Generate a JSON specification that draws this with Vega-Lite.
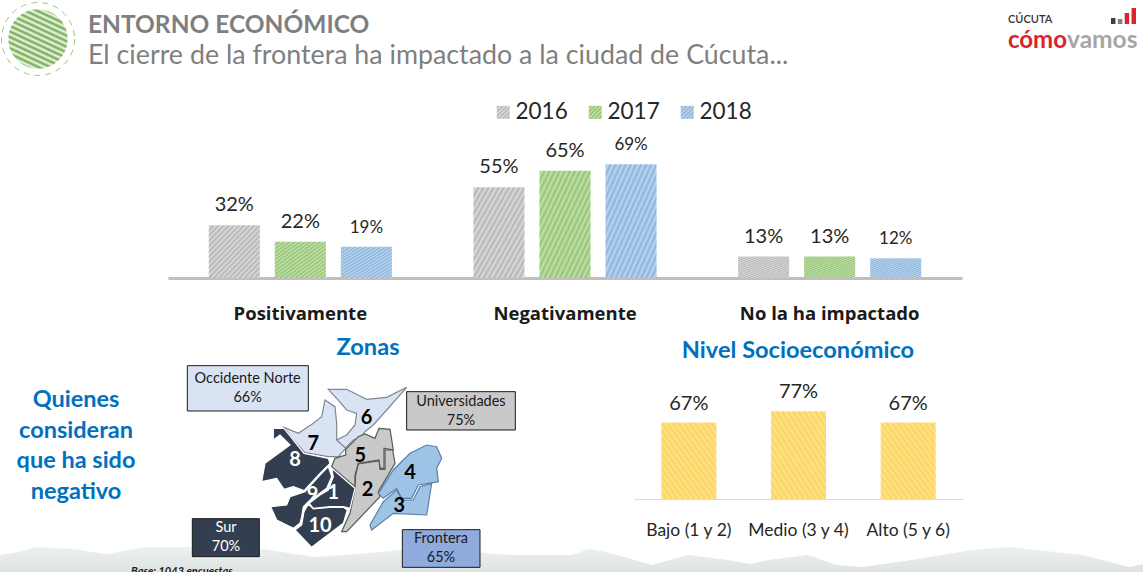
{
  "$schema": "https://vega.github.io/schema/vega-lite/v5.json",
  "width": 1143,
  "height": 572,
  "padding": 0,
  "autosize": "none",
  "background": "#ffffff",
  "title": {
    "text": "ENTORNO ECONÓMICO",
    "subtitle": "El cierre de la frontera ha impactado a la ciudad de Cúcuta...",
    "anchor": "start",
    "frame": "group",
    "dx": 88,
    "dy": 75,
    "font": "Lato",
    "fontSize": 24.5,
    "fontWeight": "bold",
    "color": "#7f7f7f",
    "subtitleFont": "Lato",
    "subtitleFontSize": 26.8,
    "subtitleFontWeight": "normal",
    "subtitleColor": "#7f7f7f",
    "subtitlePadding": 5
  },
  "config": {
    "view": {"stroke": null},
    "axis": {"grid": false},
    "text": {"font": "Lato"}
  },
  "params": [
    {"name": "rayaGris", "value": {"gradient": "linear", "x1": 0, "y1": 0, "x2": 1, "y2": 1, "stops": [
      {"offset": 0, "color": "#b4b4b4"}, {"offset": 0.025, "color": "#dcdcdc"}, {"offset": 0.05, "color": "#b4b4b4"}, {"offset": 0.075, "color": "#dcdcdc"}, {"offset": 0.1, "color": "#b4b4b4"}, {"offset": 0.125, "color": "#dcdcdc"}, {"offset": 0.15, "color": "#b4b4b4"}, {"offset": 0.175, "color": "#dcdcdc"}, {"offset": 0.2, "color": "#b4b4b4"}, {"offset": 0.225, "color": "#dcdcdc"}, {"offset": 0.25, "color": "#b4b4b4"}, {"offset": 0.275, "color": "#dcdcdc"}, {"offset": 0.3, "color": "#b4b4b4"}, {"offset": 0.325, "color": "#dcdcdc"}, {"offset": 0.35, "color": "#b4b4b4"}, {"offset": 0.375, "color": "#dcdcdc"}, {"offset": 0.4, "color": "#b4b4b4"}, {"offset": 0.425, "color": "#dcdcdc"}, {"offset": 0.45, "color": "#b4b4b4"}, {"offset": 0.475, "color": "#dcdcdc"}, {"offset": 0.5, "color": "#b4b4b4"}, {"offset": 0.525, "color": "#dcdcdc"}, {"offset": 0.55, "color": "#b4b4b4"}, {"offset": 0.575, "color": "#dcdcdc"}, {"offset": 0.6, "color": "#b4b4b4"}, {"offset": 0.625, "color": "#dcdcdc"}, {"offset": 0.65, "color": "#b4b4b4"}, {"offset": 0.675, "color": "#dcdcdc"}, {"offset": 0.7, "color": "#b4b4b4"}, {"offset": 0.725, "color": "#dcdcdc"}, {"offset": 0.75, "color": "#b4b4b4"}, {"offset": 0.775, "color": "#dcdcdc"}, {"offset": 0.8, "color": "#b4b4b4"}, {"offset": 0.825, "color": "#dcdcdc"}, {"offset": 0.85, "color": "#b4b4b4"}, {"offset": 0.875, "color": "#dcdcdc"}, {"offset": 0.9, "color": "#b4b4b4"}, {"offset": 0.925, "color": "#dcdcdc"}, {"offset": 0.95, "color": "#b4b4b4"}, {"offset": 0.975, "color": "#dcdcdc"}, {"offset": 1, "color": "#b4b4b4"}
    ]}},
    {"name": "rayaVerde", "value": {"gradient": "linear", "x1": 0, "y1": 0, "x2": 1, "y2": 1, "stops": [
      {"offset": 0, "color": "#92c472"}, {"offset": 0.025, "color": "#c4e0ae"}, {"offset": 0.05, "color": "#92c472"}, {"offset": 0.075, "color": "#c4e0ae"}, {"offset": 0.1, "color": "#92c472"}, {"offset": 0.125, "color": "#c4e0ae"}, {"offset": 0.15, "color": "#92c472"}, {"offset": 0.175, "color": "#c4e0ae"}, {"offset": 0.2, "color": "#92c472"}, {"offset": 0.225, "color": "#c4e0ae"}, {"offset": 0.25, "color": "#92c472"}, {"offset": 0.275, "color": "#c4e0ae"}, {"offset": 0.3, "color": "#92c472"}, {"offset": 0.325, "color": "#c4e0ae"}, {"offset": 0.35, "color": "#92c472"}, {"offset": 0.375, "color": "#c4e0ae"}, {"offset": 0.4, "color": "#92c472"}, {"offset": 0.425, "color": "#c4e0ae"}, {"offset": 0.45, "color": "#92c472"}, {"offset": 0.475, "color": "#c4e0ae"}, {"offset": 0.5, "color": "#92c472"}, {"offset": 0.525, "color": "#c4e0ae"}, {"offset": 0.55, "color": "#92c472"}, {"offset": 0.575, "color": "#c4e0ae"}, {"offset": 0.6, "color": "#92c472"}, {"offset": 0.625, "color": "#c4e0ae"}, {"offset": 0.65, "color": "#92c472"}, {"offset": 0.675, "color": "#c4e0ae"}, {"offset": 0.7, "color": "#92c472"}, {"offset": 0.725, "color": "#c4e0ae"}, {"offset": 0.75, "color": "#92c472"}, {"offset": 0.775, "color": "#c4e0ae"}, {"offset": 0.8, "color": "#92c472"}, {"offset": 0.825, "color": "#c4e0ae"}, {"offset": 0.85, "color": "#92c472"}, {"offset": 0.875, "color": "#c4e0ae"}, {"offset": 0.9, "color": "#92c472"}, {"offset": 0.925, "color": "#c4e0ae"}, {"offset": 0.95, "color": "#92c472"}, {"offset": 0.975, "color": "#c4e0ae"}, {"offset": 1, "color": "#92c472"}
    ]}},
    {"name": "rayaAzul", "value": {"gradient": "linear", "x1": 0, "y1": 0, "x2": 1, "y2": 1, "stops": [
      {"offset": 0, "color": "#8bb4dc"}, {"offset": 0.025, "color": "#bcd6ee"}, {"offset": 0.05, "color": "#8bb4dc"}, {"offset": 0.075, "color": "#bcd6ee"}, {"offset": 0.1, "color": "#8bb4dc"}, {"offset": 0.125, "color": "#bcd6ee"}, {"offset": 0.15, "color": "#8bb4dc"}, {"offset": 0.175, "color": "#bcd6ee"}, {"offset": 0.2, "color": "#8bb4dc"}, {"offset": 0.225, "color": "#bcd6ee"}, {"offset": 0.25, "color": "#8bb4dc"}, {"offset": 0.275, "color": "#bcd6ee"}, {"offset": 0.3, "color": "#8bb4dc"}, {"offset": 0.325, "color": "#bcd6ee"}, {"offset": 0.35, "color": "#8bb4dc"}, {"offset": 0.375, "color": "#bcd6ee"}, {"offset": 0.4, "color": "#8bb4dc"}, {"offset": 0.425, "color": "#bcd6ee"}, {"offset": 0.45, "color": "#8bb4dc"}, {"offset": 0.475, "color": "#bcd6ee"}, {"offset": 0.5, "color": "#8bb4dc"}, {"offset": 0.525, "color": "#bcd6ee"}, {"offset": 0.55, "color": "#8bb4dc"}, {"offset": 0.575, "color": "#bcd6ee"}, {"offset": 0.6, "color": "#8bb4dc"}, {"offset": 0.625, "color": "#bcd6ee"}, {"offset": 0.65, "color": "#8bb4dc"}, {"offset": 0.675, "color": "#bcd6ee"}, {"offset": 0.7, "color": "#8bb4dc"}, {"offset": 0.725, "color": "#bcd6ee"}, {"offset": 0.75, "color": "#8bb4dc"}, {"offset": 0.775, "color": "#bcd6ee"}, {"offset": 0.8, "color": "#8bb4dc"}, {"offset": 0.825, "color": "#bcd6ee"}, {"offset": 0.85, "color": "#8bb4dc"}, {"offset": 0.875, "color": "#bcd6ee"}, {"offset": 0.9, "color": "#8bb4dc"}, {"offset": 0.925, "color": "#bcd6ee"}, {"offset": 0.95, "color": "#8bb4dc"}, {"offset": 0.975, "color": "#bcd6ee"}, {"offset": 1, "color": "#8bb4dc"}
    ]}},
    {"name": "rayaAmarilla", "value": {"gradient": "linear", "x1": 0, "y1": 1, "x2": 1, "y2": 0, "stops": [
      {"offset": 0, "color": "#fcd45e"}, {"offset": 0.025, "color": "#ffe48c"}, {"offset": 0.05, "color": "#fcd45e"}, {"offset": 0.075, "color": "#ffe48c"}, {"offset": 0.1, "color": "#fcd45e"}, {"offset": 0.125, "color": "#ffe48c"}, {"offset": 0.15, "color": "#fcd45e"}, {"offset": 0.175, "color": "#ffe48c"}, {"offset": 0.2, "color": "#fcd45e"}, {"offset": 0.225, "color": "#ffe48c"}, {"offset": 0.25, "color": "#fcd45e"}, {"offset": 0.275, "color": "#ffe48c"}, {"offset": 0.3, "color": "#fcd45e"}, {"offset": 0.325, "color": "#ffe48c"}, {"offset": 0.35, "color": "#fcd45e"}, {"offset": 0.375, "color": "#ffe48c"}, {"offset": 0.4, "color": "#fcd45e"}, {"offset": 0.425, "color": "#ffe48c"}, {"offset": 0.45, "color": "#fcd45e"}, {"offset": 0.475, "color": "#ffe48c"}, {"offset": 0.5, "color": "#fcd45e"}, {"offset": 0.525, "color": "#ffe48c"}, {"offset": 0.55, "color": "#fcd45e"}, {"offset": 0.575, "color": "#ffe48c"}, {"offset": 0.6, "color": "#fcd45e"}, {"offset": 0.625, "color": "#ffe48c"}, {"offset": 0.65, "color": "#fcd45e"}, {"offset": 0.675, "color": "#ffe48c"}, {"offset": 0.7, "color": "#fcd45e"}, {"offset": 0.725, "color": "#ffe48c"}, {"offset": 0.75, "color": "#fcd45e"}, {"offset": 0.775, "color": "#ffe48c"}, {"offset": 0.8, "color": "#fcd45e"}, {"offset": 0.825, "color": "#ffe48c"}, {"offset": 0.85, "color": "#fcd45e"}, {"offset": 0.875, "color": "#ffe48c"}, {"offset": 0.9, "color": "#fcd45e"}, {"offset": 0.925, "color": "#ffe48c"}, {"offset": 0.95, "color": "#fcd45e"}, {"offset": 0.975, "color": "#ffe48c"}, {"offset": 1, "color": "#fcd45e"}
    ]}},
    {"name": "rayaCirculo", "value": {"gradient": "linear", "x1": 0.86, "y1": -0.27, "x2": 0.14, "y2": 1.27, "stops": [
      {"offset": 0, "color": "#6fa84a"}, {"offset": 0.025, "color": "#f2f8ee"}, {"offset": 0.05, "color": "#6fa84a"}, {"offset": 0.075, "color": "#f2f8ee"}, {"offset": 0.1, "color": "#6fa84a"}, {"offset": 0.125, "color": "#f2f8ee"}, {"offset": 0.15, "color": "#6fa84a"}, {"offset": 0.175, "color": "#f2f8ee"}, {"offset": 0.2, "color": "#6fa84a"}, {"offset": 0.225, "color": "#f2f8ee"}, {"offset": 0.25, "color": "#6fa84a"}, {"offset": 0.275, "color": "#f2f8ee"}, {"offset": 0.3, "color": "#6fa84a"}, {"offset": 0.325, "color": "#f2f8ee"}, {"offset": 0.35, "color": "#6fa84a"}, {"offset": 0.375, "color": "#f2f8ee"}, {"offset": 0.4, "color": "#6fa84a"}, {"offset": 0.425, "color": "#f2f8ee"}, {"offset": 0.45, "color": "#6fa84a"}, {"offset": 0.475, "color": "#f2f8ee"}, {"offset": 0.5, "color": "#6fa84a"}, {"offset": 0.525, "color": "#f2f8ee"}, {"offset": 0.55, "color": "#6fa84a"}, {"offset": 0.575, "color": "#f2f8ee"}, {"offset": 0.6, "color": "#6fa84a"}, {"offset": 0.625, "color": "#f2f8ee"}, {"offset": 0.65, "color": "#6fa84a"}, {"offset": 0.675, "color": "#f2f8ee"}, {"offset": 0.7, "color": "#6fa84a"}, {"offset": 0.725, "color": "#f2f8ee"}, {"offset": 0.75, "color": "#6fa84a"}, {"offset": 0.775, "color": "#f2f8ee"}, {"offset": 0.8, "color": "#6fa84a"}, {"offset": 0.825, "color": "#f2f8ee"}, {"offset": 0.85, "color": "#6fa84a"}, {"offset": 0.875, "color": "#f2f8ee"}, {"offset": 0.9, "color": "#6fa84a"}, {"offset": 0.925, "color": "#f2f8ee"}, {"offset": 0.95, "color": "#6fa84a"}, {"offset": 0.975, "color": "#f2f8ee"}, {"offset": 1, "color": "#6fa84a"}
    ]}},
    {"name": "fondoCerros", "value": {"gradient": "linear", "x1": 0, "y1": 0, "x2": 0, "y2": 1, "stops": [
      {"offset": 0, "color": "#edf1f0"}, {"offset": 1, "color": "#dde4e2"}
    ]}}
  ],
  "datasets": {
    "impacto": [
      {"categoria": "Positivamente", "anio": "2016", "valor": 0.32},
      {"categoria": "Positivamente", "anio": "2017", "valor": 0.22},
      {"categoria": "Positivamente", "anio": "2018", "valor": 0.19},
      {"categoria": "Negativamente", "anio": "2016", "valor": 0.55},
      {"categoria": "Negativamente", "anio": "2017", "valor": 0.65},
      {"categoria": "Negativamente", "anio": "2018", "valor": 0.69},
      {"categoria": "No la ha impactado", "anio": "2016", "valor": 0.13},
      {"categoria": "No la ha impactado", "anio": "2017", "valor": 0.13},
      {"categoria": "No la ha impactado", "anio": "2018", "valor": 0.12}
    ],
    "nivel": [
      {"nivel": "Bajo (1 y 2)", "valor": 0.67},
      {"nivel": "Medio (3 y 4)", "valor": 0.77},
      {"nivel": "Alto (5 y 6)", "valor": 0.67}
    ],
    "zonas": [
      {"type": "Feature", "properties": {"zona": "6", "grupo": "Occidente Norte"}, "geometry": {"type": "Polygon", "coordinates": [[[445,88],[500,88],[560,118],[620,112],[680,82],[620,150],[580,195],[555,215],[540,235],[520,240],[495,265],[470,240],[500,225],[525,195],[530,160],[500,150],[470,115],[445,88]]]}},
      {"type": "Feature", "properties": {"zona": "7", "grupo": "Occidente Norte"}, "geometry": {"type": "Polygon", "coordinates": [[[312,202],[355,220],[400,190],[425,170],[435,120],[465,140],[470,190],[470,240],[497,265],[475,290],[445,290],[375,278],[340,240],[312,202]]]}},
      {"type": "Feature", "properties": {"zona": "8", "grupo": "Sur"}, "geometry": {"type": "Polygon", "coordinates": [[[280,205],[312,205],[372,280],[445,295],[450,310],[420,340],[372,392],[340,380],[312,388],[290,355],[245,365],[255,310],[330,255],[300,225],[280,240],[280,205]]]}},
      {"type": "Feature", "properties": {"zona": "5", "grupo": "Universidades"}, "geometry": {"type": "Polygon", "coordinates": [[[497,268],[535,230],[555,222],[585,235],[597,205],[630,208],[640,270],[612,265],[612,325],[600,325],[597,300],[535,310],[525,345],[525,380],[455,320],[465,295],[497,285],[497,268]]]}},
      {"type": "Feature", "properties": {"zona": "2", "grupo": "Universidades"}, "geometry": {"type": "Polygon", "coordinates": [[[535,312],[597,303],[600,328],[615,328],[615,270],[638,270],[645,310],[595,395],[600,410],[500,515],[485,515],[510,460],[525,385],[527,345],[535,312]]]}},
      {"type": "Feature", "properties": {"zona": "1", "grupo": "Sur"}, "geometry": {"type": "Polygon", "coordinates": [[[455,325],[525,385],[510,445],[490,440],[450,440],[400,445],[388,430],[420,405],[445,390],[460,350],[455,325]]]}},
      {"type": "Feature", "properties": {"zona": "9", "grupo": "Sur"}, "geometry": {"type": "Polygon", "coordinates": [[[375,395],[420,345],[445,320],[455,350],[440,385],[385,425],[370,440],[365,470],[360,490],[340,505],[290,480],[272,440],[320,435],[330,410],[375,395]]]}},
      {"type": "Feature", "properties": {"zona": "10", "grupo": "Sur"}, "geometry": {"type": "Polygon", "coordinates": [[[385,432],[400,447],[450,442],[490,442],[502,450],[490,490],[395,562],[345,510],[365,495],[372,455],[385,432]]]}},
      {"type": "Feature", "properties": {"zona": "4", "grupo": "Frontera"}, "geometry": {"type": "Polygon", "coordinates": [[[595,400],[640,330],[690,280],[740,255],[770,260],[785,295],[770,325],[775,365],[715,375],[695,415],[665,415],[650,385],[610,415],[595,400]]]}},
      {"type": "Feature", "properties": {"zona": "3", "grupo": "Frontera"}, "geometry": {"type": "Polygon", "coordinates": [[[570,495],[610,425],[650,390],[665,420],[700,420],[720,380],[755,370],[740,465],[640,460],[575,510],[570,495]]]}}
    ],
    "etiquetasZona": [
      {"zona": "6", "grupo": "Occidente Norte", "lon": 560, "lat": 175},
      {"zona": "7", "grupo": "Occidente Norte", "lon": 400, "lat": 252},
      {"zona": "8", "grupo": "Sur", "lon": 345, "lat": 300},
      {"zona": "5", "grupo": "Universidades", "lon": 541, "lat": 288},
      {"zona": "9", "grupo": "Sur", "lon": 398, "lat": 405},
      {"zona": "1", "grupo": "Sur", "lon": 460, "lat": 400},
      {"zona": "2", "grupo": "Universidades", "lon": 563, "lat": 390},
      {"zona": "4", "grupo": "Frontera", "lon": 690, "lat": 338},
      {"zona": "3", "grupo": "Frontera", "lon": 658, "lat": 438},
      {"zona": "10", "grupo": "Sur", "lon": 420, "lat": 497}
    ],
    "cajas": [
      {"type": "Feature", "properties": {"grupo": "Occidente Norte"}, "geometry": {"type": "Polygon", "coordinates": [[[22,17],[385,17],[385,153],[22,153],[22,17]]]}},
      {"type": "Feature", "properties": {"grupo": "Universidades"}, "geometry": {"type": "Polygon", "coordinates": [[[680,95],[1006,95],[1006,210],[680,210],[680,95]]]}},
      {"type": "Feature", "properties": {"grupo": "Sur"}, "geometry": {"type": "Polygon", "coordinates": [[[37,476],[238,476],[238,590],[37,590],[37,476]]]}},
      {"type": "Feature", "properties": {"grupo": "Frontera"}, "geometry": {"type": "Polygon", "coordinates": [[[667,509],[900,509],[900,622],[667,622],[667,509]]]}}
    ],
    "etiquetasCaja": [
      {"grupo": "Occidente Norte", "texto": "Occidente Norte\n66%", "lon": 203, "lat": 57},
      {"grupo": "Universidades", "texto": "Universidades\n75%", "lon": 843, "lat": 126},
      {"grupo": "Sur", "texto": "Sur\n70%", "lon": 138, "lat": 504},
      {"grupo": "Frontera", "texto": "Frontera\n65%", "lon": 783, "lat": 536}
    ],
    "cerros": [
      {"x": 0, "altura": 17}, {"x": 1.6, "altura": 20}, {"x": 3.2, "altura": 25}, {"x": 6.4, "altura": 23},
      {"x": 9.3, "altura": 18}, {"x": 12.8, "altura": 25}, {"x": 16.6, "altura": 25}, {"x": 23, "altura": 23},
      {"x": 27.5, "altura": 15}, {"x": 31.3, "altura": 18}, {"x": 35.1, "altura": 22}, {"x": 41.5, "altura": 20},
      {"x": 44.7, "altura": 17}, {"x": 50, "altura": 17}, {"x": 51.5, "altura": 23}, {"x": 53.1, "altura": 20},
      {"x": 57, "altura": 7}, {"x": 60.2, "altura": 17}, {"x": 63.7, "altura": 12}, {"x": 65.6, "altura": 8},
      {"x": 67.2, "altura": 12}, {"x": 70.7, "altura": 17}, {"x": 73.2, "altura": 7}, {"x": 75.5, "altura": 5},
      {"x": 80.3, "altura": 13}, {"x": 85, "altura": 22}, {"x": 88.3, "altura": 25}, {"x": 94.7, "altura": 17},
      {"x": 98.8, "altura": 5}, {"x": 100, "altura": 8}
    ],
    "barrasLogo": [
      {"barra": "a", "nivel": 6},
      {"barra": "b", "nivel": 5},
      {"barra": "c", "nivel": 11},
      {"barra": "d", "nivel": 16}
    ]
  },
  "resolve": {
    "scale": {"x": "independent", "y": "independent", "color": "independent", "stroke": "independent"}
  },
  "layer": [
    {
      "data": {"name": "cerros"},
      "mark": {"type": "area", "fill": {"expr": "fondoCerros"}},
      "encoding": {
        "x": {"field": "x", "type": "quantitative", "axis": null, "scale": {"domain": [0, 100], "range": [0, 1143]}},
        "y": {"field": "altura", "type": "quantitative", "axis": null, "scale": {"domain": [0, 30], "range": [572, 542]}}
      }
    },
    {
      "data": {"values": [{"pieza": "circulo"}]},
      "encoding": {
        "x": {"field": "pieza", "type": "nominal", "axis": null, "scale": {"range": [38, 38]}},
        "y": {"field": "pieza", "type": "nominal", "axis": null, "scale": {"range": [39, 39]}}
      },
      "layer": [
        {"mark": {"type": "point", "filled": true, "size": 3530, "opacity": 1, "fill": {"expr": "rayaCirculo"}}},
        {"mark": {"type": "point", "filled": false, "size": 5330, "opacity": 1, "stroke": "#9cc783", "strokeWidth": 1, "strokeDash": [6, 5]}}
      ]
    },
    {
      "data": {"values": [{"texto": "CÚCUTA"}]},
      "mark": {"type": "text", "align": "left", "baseline": "middle", "fontSize": 11, "fontWeight": 600, "color": "#333333"},
      "encoding": {
        "x": {"field": "texto", "type": "nominal", "axis": null, "scale": {"range": [1008, 1008]}},
        "y": {"field": "texto", "type": "nominal", "axis": null, "scale": {"range": [20, 20]}},
        "text": {"field": "texto"}
      }
    },
    {
      "data": {"values": [{"texto": "cómo"}]},
      "mark": {"type": "text", "align": "right", "baseline": "middle", "fontSize": 24, "fontWeight": "bold", "color": "#d9232e"},
      "encoding": {
        "x": {"field": "texto", "type": "nominal", "axis": null, "scale": {"range": [1067, 1067]}},
        "y": {"field": "texto", "type": "nominal", "axis": null, "scale": {"range": [41, 41]}},
        "text": {"field": "texto"}
      }
    },
    {
      "data": {"values": [{"texto": "vamos"}]},
      "mark": {"type": "text", "align": "left", "baseline": "middle", "fontSize": 24.5, "fontWeight": "bold", "color": "#a6a6a6"},
      "encoding": {
        "x": {"field": "texto", "type": "nominal", "axis": null, "scale": {"range": [1067, 1067]}},
        "y": {"field": "texto", "type": "nominal", "axis": null, "scale": {"range": [41, 41]}},
        "text": {"field": "texto"}
      }
    },
    {
      "data": {"name": "barrasLogo"},
      "mark": {"type": "bar"},
      "encoding": {
        "x": {"field": "barra", "type": "nominal", "axis": null, "scale": {"range": [1111, 1136], "paddingInner": 0.35, "paddingOuter": 0}},
        "y": {"field": "nivel", "type": "quantitative", "axis": null, "scale": {"domain": [0, 16], "range": [24, 8]}},
        "color": {"field": "barra", "type": "nominal", "legend": null, "scale": {"domain": ["a", "b", "c", "d"], "range": ["#404040", "#7f7f7f", "#d9232e", "#d9232e"]}}
      }
    },
    {
      "data": {"name": "impacto"},
      "encoding": {
        "x": {
          "field": "categoria",
          "type": "nominal",
          "sort": ["Positivamente", "Negativamente", "No la ha impactado"],
          "title": null,
          "scale": {"range": [168, 962], "paddingInner": 0, "paddingOuter": 0},
          "axis": {"orient": "bottom", "offset": -294, "ticks": false, "domainColor": "#bfbfbf", "domainWidth": 3, "labelFont": "Open Sans", "labelFontWeight": "bold", "labelFontSize": 18.5, "labelColor": "#1a1a1a", "labelPadding": 26, "labelAngle": 0}
        },
        "xOffset": {"field": "anio", "type": "nominal", "sort": ["2016", "2017", "2018"], "scale": {"paddingInner": 0.227, "paddingOuter": 0.617}},
        "y": {"field": "valor", "type": "quantitative", "axis": null, "scale": {"domain": [0, 1], "range": [278, 113]}}
      },
      "layer": [
        {
          "mark": {"type": "bar"},
          "encoding": {
            "color": {
              "field": "anio",
              "type": "nominal",
              "scale": {"domain": ["2016", "2017", "2018"], "range": [{"expr": "rayaGris"}, {"expr": "rayaVerde"}, {"expr": "rayaAzul"}]},
              "legend": {"orient": "none", "legendX": 492, "legendY": 101, "direction": "horizontal", "title": null, "labelFont": "Lato", "labelFontSize": 22.5, "labelColor": "#262626", "symbolType": "square", "symbolSize": 170, "symbolStrokeWidth": 0, "columnPadding": 16, "labelOffset": 1}
            }
          }
        },
        {
          "mark": {"type": "text", "align": "center", "baseline": "bottom", "dy": -10, "color": "#262626"},
          "encoding": {
            "text": {"field": "valor", "type": "quantitative", "format": ".0%"},
            "size": {"condition": {"test": "datum.anio === '2018'", "value": 17}, "value": 20}
          }
        }
      ]
    },
    {
      "data": {"name": "nivel"},
      "encoding": {
        "x": {
          "field": "nivel",
          "type": "nominal",
          "sort": ["Bajo (1 y 2)", "Medio (3 y 4)", "Alto (5 y 6)"],
          "title": null,
          "scale": {"range": [634, 963], "paddingInner": 0.498, "paddingOuter": 0.249},
          "axis": {"orient": "bottom", "offset": -73, "ticks": false, "domainColor": "#d9d9d9", "domainWidth": 1, "labelFont": "Lato", "labelFontSize": 17.5, "labelColor": "#262626", "labelPadding": 22, "labelAngle": 0}
        },
        "y": {"field": "valor", "type": "quantitative", "axis": null, "scale": {"domain": [0, 1], "range": [499, 385]}}
      },
      "layer": [
        {"mark": {"type": "bar", "fill": {"expr": "rayaAmarilla"}}},
        {
          "mark": {"type": "text", "align": "center", "baseline": "bottom", "dy": -9, "fontSize": 20, "color": "#262626"},
          "encoding": {"text": {"field": "valor", "type": "quantitative", "format": ".0%"}}
        }
      ]
    },
    {
      "data": {"values": [{"texto": "Zonas"}, {"texto": "Nivel Socioeconómico"}]},
      "mark": {"type": "text", "align": "center", "baseline": "middle", "fontSize": 23.6, "fontWeight": "bold", "color": "#0070c0"},
      "encoding": {
        "x": {"field": "texto", "type": "nominal", "axis": null, "scale": {"domain": ["Zonas", "Nivel Socioeconómico"], "range": [368, 798], "padding": 0}},
        "y": {"field": "texto", "type": "nominal", "axis": null, "scale": {"domain": ["Zonas", "Nivel Socioeconómico"], "range": [348, 351], "padding": 0}},
        "text": {"field": "texto"}
      }
    },
    {
      "data": {"values": [{"texto": "Quienes"}, {"texto": "consideran"}, {"texto": "que ha sido"}, {"texto": "negativo"}]},
      "mark": {"type": "text", "align": "center", "baseline": "middle", "fontSize": 23.5, "fontWeight": "bold", "color": "#0070c0"},
      "encoding": {
        "x": {"datum": "bloque", "type": "nominal", "axis": null, "scale": {"range": [76, 76]}},
        "y": {"field": "texto", "type": "nominal", "axis": null, "sort": null, "scale": {"range": [400, 492], "padding": 0}},
        "text": {"field": "texto"}
      }
    },
    {
      "data": {"values": [{"texto": "Base: 1043 encuestas"}]},
      "mark": {"type": "text", "align": "left", "baseline": "middle", "fontSize": 11, "fontWeight": "bold", "fontStyle": "italic", "color": "#1a1a1a"},
      "encoding": {
        "x": {"field": "texto", "type": "nominal", "axis": null, "scale": {"range": [131, 131]}},
        "y": {"field": "texto", "type": "nominal", "axis": null, "scale": {"range": [572, 572]}},
        "text": {"field": "texto"}
      }
    },
    {
      "data": {"name": "cajas"},
      "projection": {"type": "identity", "scale": 0.33333, "translate": [180, 360]},
      "mark": {"type": "geoshape", "stroke": "#1a1a1a", "strokeWidth": 1},
      "encoding": {
        "color": {"field": "properties.grupo", "type": "nominal", "legend": null, "scale": {"domain": ["Occidente Norte", "Universidades", "Sur", "Frontera"], "range": ["#dae3f3", "#c9c9c9", "#333f50", "#8faadc"]}}
      }
    },
    {
      "data": {"name": "zonas"},
      "projection": {"type": "identity", "scale": 0.33333, "translate": [180, 360]},
      "mark": {"type": "geoshape", "strokeWidth": 1.2},
      "encoding": {
        "color": {"field": "properties.grupo", "type": "nominal", "legend": null, "scale": {"domain": ["Occidente Norte", "Universidades", "Sur", "Frontera"], "range": ["#dae3f3", "#c9c9c9", "#333f50", "#9dc3e6"]}},
        "stroke": {"field": "properties.grupo", "type": "nominal", "legend": null, "scale": {"domain": ["Occidente Norte", "Universidades", "Sur", "Frontera"], "range": ["#7f8795", "#595959", "#ffffff", "#5b7fa6"]}}
      }
    },
    {
      "data": {"name": "etiquetasZona"},
      "projection": {"type": "identity", "scale": 0.33333, "translate": [180, 360]},
      "mark": {"type": "text", "align": "center", "baseline": "middle", "fontSize": 20, "fontWeight": "bold"},
      "encoding": {
        "longitude": {"field": "lon", "type": "quantitative"},
        "latitude": {"field": "lat", "type": "quantitative"},
        "text": {"field": "zona"},
        "color": {"condition": {"test": "datum.grupo === 'Sur'", "value": "#ffffff"}, "value": "#000000"}
      }
    },
    {
      "data": {"name": "etiquetasCaja"},
      "projection": {"type": "identity", "scale": 0.33333, "translate": [180, 360]},
      "mark": {"type": "text", "align": "center", "baseline": "middle", "fontSize": 14.5, "lineBreak": "\n", "lineHeight": 19},
      "encoding": {
        "longitude": {"field": "lon", "type": "quantitative"},
        "latitude": {"field": "lat", "type": "quantitative"},
        "text": {"field": "texto"},
        "color": {"condition": {"test": "datum.grupo === 'Sur'", "value": "#ffffff"}, "value": "#1a1a1a"}
      }
    }
  ]
}
